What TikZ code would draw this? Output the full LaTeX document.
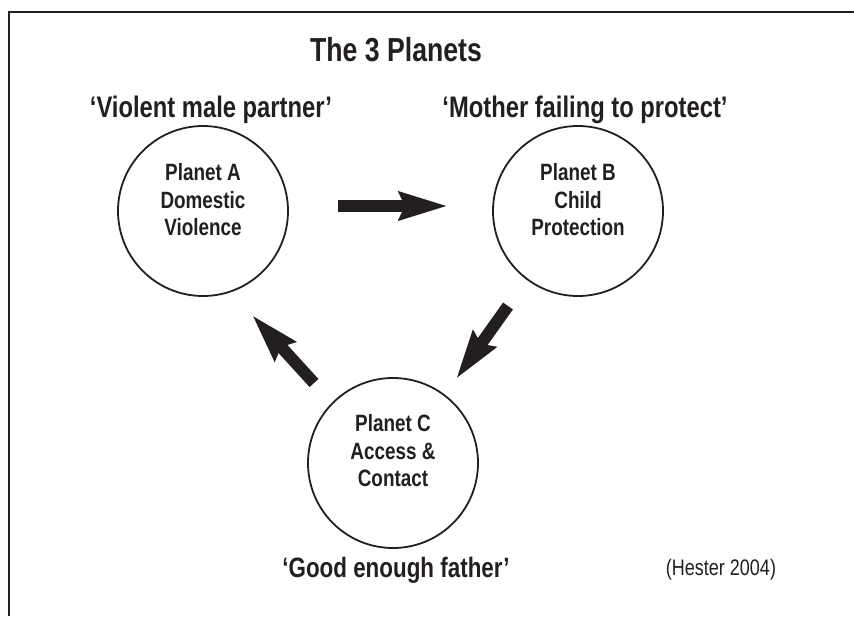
\documentclass[tikz,border=0pt]{standalone}
\usepackage{fontspec}
\setmainfont{Liberation Sans}[FakeStretch=0.8]
\usetikzlibrary{arrows.meta}
\definecolor{ink}{HTML}{231F20}

\begin{document}
\begin{tikzpicture}[x=1pt, y=-1pt,
    planet/.style={circle, draw=ink, line width=1.8pt, minimum size=170pt, inner sep=0pt},
    planettext/.style={align=center, text=ink, font=\bfseries\fontsize{23.6}{27.5}\selectfont},
    saying/.style={anchor=base, text=ink, font=\bfseries\fontsize{29.7}{32}\selectfont},
    bigarrow/.style={draw=ink, line width=12pt, -{Stealth[length=48pt, width=27pt, inset=5pt, fill=ink]}}]
    \useasboundingbox (0,0) rectangle (854,616);
    \draw[ink, line width=2pt] (9,616) -- (9,12) -- (854,12);

    \node[anchor=base, text=ink, font=\bfseries\fontsize{33.3}{36}\selectfont] (title) at (396,61) {The 3 Planets};

    \node[planet] (A) at (203,211) {};
    \node[planet] (B) at (578,211) {};
    \node[planet] (C) at (393,463) {};
    \node[planettext] (Atext) at (203,200) {Planet A\\Domestic\\Violence};
    \node[planettext] (Btext) at (578,200) {Planet B\\Child\\Protection};
    \node[planettext] (Ctext) at (393,451) {Planet C\\Access \&\\Contact};

    \node[saying] (Alabel) at (211,117) {`Violent male partner'};
    \node[saying] (Blabel) at (585,117) {`Mother failing to protect'};
    \node[saying, font=\bfseries\fontsize{28}{32}\selectfont] (Clabel) at (396,577) {`Good enough father'};
    \node[anchor=base, text=ink, font=\fontsize{22.5}{24}\selectfont] (source) at (721,575) {(Hester 2004)};

    \coordinate (ab1) at (338,206);
    \coordinate (ab2) at (448,206);
    \coordinate (bc1) at (508,306);
    \coordinate (bc2) at (456,379);
    \coordinate (ca1) at (314,383);
    \coordinate (ca2) at (252,315);
    \draw[bigarrow] (ab1) -- (ab2);
    \draw[bigarrow] (bc1) -- (bc2);
    \draw[bigarrow] (ca1) -- (ca2);
\end{tikzpicture}
\end{document}
